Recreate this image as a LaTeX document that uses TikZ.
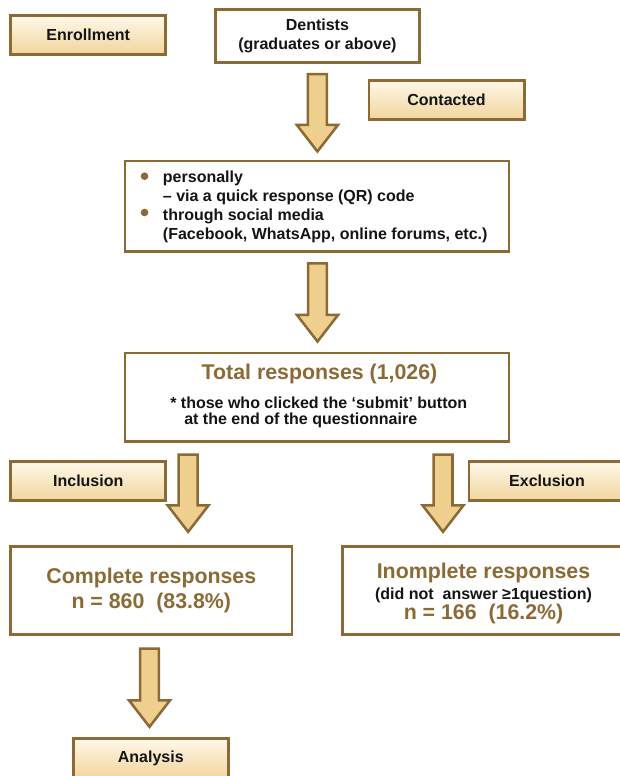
\documentclass[tikz,border=0pt]{standalone}
\usepackage{fontspec}
\setmainfont{Liberation Sans}
\usetikzlibrary{calc}
\definecolor{brn}{HTML}{8C6A35}
\definecolor{arrfill}{HTML}{EECF8E}
\definecolor{gtop}{HTML}{FFF8EA}
\definecolor{gbot}{HTML}{F1D59C}
\definecolor{txt}{HTML}{141414}
\newcommand\fatarrow[2]{\draw[fat] let \p1=(#1), \p2=(#2) in
  (\x1-7.1pt,\y1) -- (\x1+7.1pt,\y1) -- (\x1+7.1pt,\y2+19.9pt) -- (\x1+15.4pt,\y2+19.9pt)
  -- (\x1,\y2) -- (\x1-15.4pt,\y2+19.9pt) -- (\x1-7.1pt,\y2+19.9pt) -- cycle;}
\begin{document}
\begin{tikzpicture}[x=0.75pt,y=-0.75pt,
  box/.style={draw=brn, line width=2.2pt, fill=white, inner sep=0pt},
  tag/.style={box, top color=gtop, bottom color=gbot, minimum width=116.3pt, minimum height=29.5pt,
    font=\fontsize{12}{14}\bfseries\selectfont, text=txt},
  body/.style={font=\fontsize{12}{13.7}\bfseries\selectfont, text=txt, align=center},
  title/.style={font=\fontsize{16}{16}\bfseries\selectfont, text=brn, align=center},
  fat/.style={draw=brn, line width=1.9pt, fill=arrfill, line join=miter}]
\useasboundingbox (0,0) rectangle (619,776);

\node[tag] (enroll) at (88.25,35) {Enrollment};
\node[box, body, minimum width=153.5pt, minimum height=39.5pt] (dent) at (317.4,36) {Dentists\\(graduates or above)};
\node[tag] (contact) at (446.5,99.7) {Contacted};

\node[box, minimum width=288pt, minimum height=68pt] (bul) at (317,206.3) {};
\node[anchor=west, inner sep=0pt, align=left, font=\fontsize{12}{14.2}\bfseries\selectfont, text=txt] (bultext) at (162.7,207)
  {personally\\– via a quick response (QR) code\\through social media\\(Facebook, WhatsApp, online forums, etc.)};
\fill[brn] ($(bul.north west)+(21,16.7)$) circle (2.85pt);
\fill[brn] ($(bul.north west)+(21,53)$) circle (2.85pt);

\node[box, minimum width=288pt, minimum height=66.5pt] (total) at (317,397.3) {};
\node[title] (ttitle) at (319.5,373.5) {Total responses (1,026)};
\node[anchor=west, inner sep=0pt, align=left, font=\fontsize{12}{12.3}\bfseries\selectfont, text=txt] (tnote) at (170,412.5)
  {* those who clicked the ‘submit’ button\\\hspace*{10.5pt}at the end of the questionnaire};

\node[tag] (incl) at (88.25,481.2) {Inclusion};
\node[tag, minimum width=117pt] (excl) at (547,481.2) {Exclusion};

\node[box, title, minimum width=211pt, minimum height=66.2pt] (comp) at (151.3,590.8)
  {Complete responses\\[2.75pt]n = 860~~(83.8\%)};
\node[box, minimum width=212pt, minimum height=66.2pt] (incomp) at (483.5,590.8) {};
\node[title, inner sep=0pt] (inctext) at (483.5,593.5)
  {Inomplete responses\\{\fontsize{12}{12}\selectfont\color{txt}(did not~~answer ≥1question)}\\[-0.8pt]n = 166~~(16.2\%)};

\node[tag, minimum width=116pt, minimum height=30pt] (anal) at (150.8,758.5) {Analysis};

\coordinate (a1s) at ($(dent.south)+(0,10.3)$);
\coordinate (a1e) at ($(bul.north)+(0,-8)$);
\coordinate (a2s) at ($(bul.south)+(0.5,10.3)$);
\coordinate (a2e) at ($(total.north)+(0,-10)$);
\coordinate (a3s) at ($(total.south west)+(64.6,11.6)$);
\coordinate (a3e) at ($(comp.north)+(0,-13.4)$);
\coordinate (a4s) at ($(total.south west)+(319.5,11.6)$);
\coordinate (a4e) at ($(incomp.north)+(0,-13.4)$);
\coordinate (a5s) at ($(comp.south)+(-1.8,12.3)$);
\coordinate (a5e) at ($(anal.north)+(0,-10.2)$);
\fatarrow{a1s}{a1e}
\fatarrow{a2s}{a2e}
\fatarrow{a3s}{a3e}
\fatarrow{a4s}{a4e}
\fatarrow{a5s}{a5e}
\end{tikzpicture}
\end{document}
